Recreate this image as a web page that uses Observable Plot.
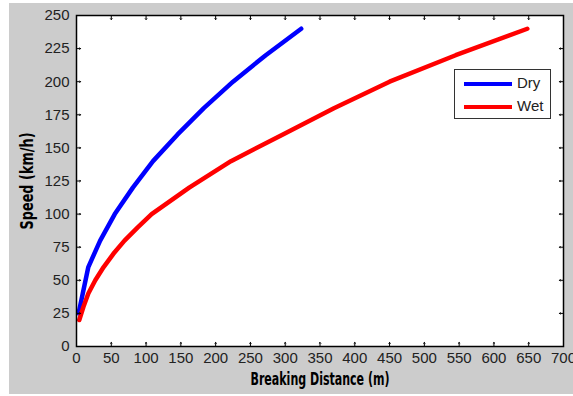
<!DOCTYPE html>
<html><head><meta charset="utf-8">
<script src="https://cdn.jsdelivr.net/npm/d3@7"></script>
<script src="https://cdn.jsdelivr.net/npm/@observablehq/plot@0.6"></script>
<style>
body{margin:0;background:#fff;}
#wrap{position:relative;width:573px;height:396px;overflow:hidden;}
#bg{position:absolute;left:9px;top:3px;width:564px;height:391px;background:#cccccc;}
#chart{position:absolute;left:0;top:0;}
#chart svg{background:transparent;}
#legend{position:absolute;left:454px;top:69px;width:97px;height:50px;background:#fff;border:1px solid #333;box-sizing:border-box;font:15px "Liberation Sans",Arial,sans-serif;color:#222;}
.item{position:absolute;left:0;height:18px;}
.sw{position:absolute;left:9px;width:48px;height:4px;}
.lab{position:absolute;left:62px;top:-1px;}
</style></head>
<body><div id="wrap"><div id="bg"></div><div id="chart"></div><div id="legend"></div></div>
<script>
const seriesNames = ["Dry", "Wet"];
const seriesColors = ["#0000ff", "#ff0000"];
const drySpeed = [25, 40, 60, 80, 100, 120, 140, 160, 180, 200, 220, 240];
const dryDistance = [3, 9, 17, 34, 55, 81, 110, 145, 183, 225, 272, 323];
const wetSpeed = [20, 30, 40, 50, 60, 70, 80, 90, 100, 120, 140, 160, 180, 200, 220, 240];
const wetDistance = [4, 10, 17, 27, 39, 53, 69, 88, 108, 162, 222, 296, 370, 450, 545, 648];
const xTicks = [0, 50, 100, 150, 200, 250, 300, 350, 400, 450, 500, 550, 600, 650, 700];
const yTicks = [0, 25, 50, 75, 100, 125, 150, 175, 200, 225, 250];
const xTitle = "Breaking Distance (m)";
const yTitle = "Speed (km/h)";

const dry = drySpeed.map((s, i) => ({x: dryDistance[i], y: s}));
const wet = wetSpeed.map((s, i) => ({x: wetDistance[i], y: s}));

const tickOpts = {strokeWidth: 1, stroke: "#000"};
const plot = Plot.plot({
  width: 573, height: 396,
  marginLeft: 76, marginTop: 15, marginRight: 10, marginBottom: 50,
  style: {fontFamily: "'Liberation Sans', Arial, sans-serif", fontSize: "15px", color: "#222", background: "transparent"},
  x: {domain: [0, 700], ticks: xTicks},
  y: {domain: [0, 250], ticks: yTicks},
  marks: [
    Plot.frame({fill: "#fff", stroke: null}),
    Plot.line(dry, {x: "x", y: "y", stroke: seriesColors[0], strokeWidth: 4.5, curve: "linear"}),
    Plot.line(wet, {x: "x", y: "y", stroke: seriesColors[1], strokeWidth: 4.5, curve: "linear"}),
    Plot.vector(xTicks.slice(1, -1), {x: d => d, frameAnchor: "bottom", length: 4, anchor: "start", rotate: 0, ...tickOpts}),
    Plot.vector(xTicks.slice(1, -1), {x: d => d, frameAnchor: "top", length: 4, anchor: "start", rotate: 180, ...tickOpts}),
    Plot.vector(yTicks.slice(1, -1), {y: d => d, frameAnchor: "left", length: 4, anchor: "start", rotate: 90, ...tickOpts}),
    Plot.vector(yTicks.slice(1, -1), {y: d => d, frameAnchor: "right", length: 4, anchor: "start", rotate: -90, ...tickOpts}),
    Plot.axisX(xTicks, {anchor: "bottom", tickSize: 0, tickPadding: 6, label: xTitle, labelAnchor: "center", labelArrow: "none", labelOffset: 38}),
    Plot.axisY(yTicks, {anchor: "left", tickSize: 0, tickPadding: 7, label: yTitle, labelAnchor: "center", labelArrow: "none", labelOffset: 56}),
    Plot.frame({stroke: "#000", strokeWidth: 1.5})
  ]
});
document.getElementById("chart").append(plot);

// style axis titles
d3.select(plot).selectAll('g[aria-label="x-axis label"] text, g[aria-label="y-axis label"] text')
  .attr("font-family", "'Liberation Sans Narrow', 'DejaVu Sans Condensed', sans-serif")
  .attr("font-weight", "bold")
  .attr("font-size", 18)
  .attr("fill", "#000");
d3.select(plot).selectAll('g[aria-label="x-axis label"] text').attr("textLength", 139).attr("lengthAdjust", "spacingAndGlyphs");
d3.select(plot).selectAll('g[aria-label="y-axis label"] text').attr("textLength", 97).attr("lengthAdjust", "spacingAndGlyphs");

const legend = document.getElementById("legend");
seriesNames.forEach((name, i) => {
  const item = document.createElement("div");
  item.className = "item";
  item.style.top = (5 + i * 23) + "px";
  item.innerHTML = `<div class="sw" style="top:7px;background:${seriesColors[i]}"></div><div class="lab">${name}</div>`;
  legend.append(item);
});
</script>
</body></html>
